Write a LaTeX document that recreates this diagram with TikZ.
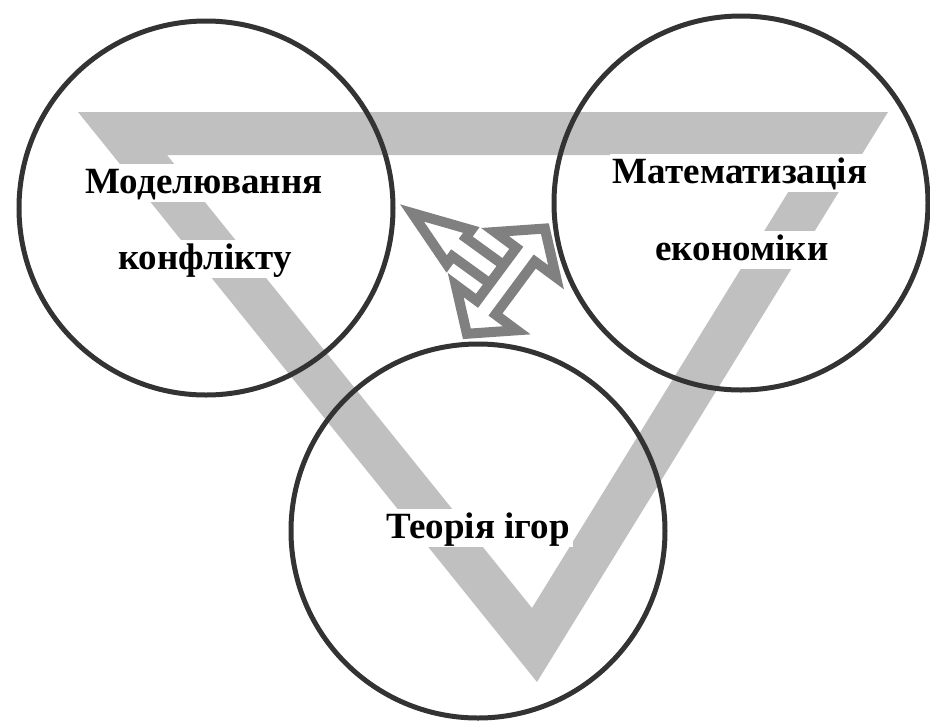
\documentclass[tikz,border=0pt]{standalone}
\usepackage{fontspec}
\setmainfont{Liberation Serif}
\definecolor{bandgray}{HTML}{C0C0C0}
\definecolor{ringgray}{HTML}{333333}
\definecolor{arrowgray}{HTML}{808080}

\begin{document}
\begin{tikzpicture}[x=1pt,y=-1pt,
    ring/.style={circle,draw=ringgray,line width=5pt,minimum size=374pt,inner sep=0pt},
    lbl/.style={fill=white,inner xsep=3pt,inner ysep=0pt,text height=29pt,text depth=9pt,anchor=base,font=\fontsize{37}{42}\selectfont\bfseries},
    outarrow/.style={draw=arrowgray,fill=white,line width=10pt,line join=miter}]
    \useasboundingbox (0,0) rectangle (930,724);
    % Triangle band ==========================================
    \fill[bandgray,even odd rule] (78,112) -- (888,112) -- (537,682) -- cycle
                                  (167,155) -- (811,155) -- (532,608) -- cycle;
    % Labels =================================================
    \node[lbl] (mod1)  at (204,193) {Моделювання};
    \node[lbl] (mod2)  at (205,269) {конфлікту};
    \node[lbl] (math1) at (740,183) {Математизація};
    \node[lbl] (math2) at (742,260) {економіки};
    \node[lbl] (game)  at (478,538) {Теорія ігор};
    % Circles ================================================
    \node[ring] (modc)  at (206,208) {};
    \node[ring] (mathc) at (741,203) {};
    \node[ring] (gamec) at (478,531) {};
    % Arrows =================================================
    \begin{scope}[shift={(506,281)},rotate=144.1]
      \draw[outarrow] (0,11.5) -- (58,11.5) -- (58,21) -- (116,0) -- (58,-21) -- (58,-11.5) -- (0,-11.5) -- cycle;
    \end{scope}
    \begin{scope}[shift={(463,339)},rotate=53.45]
      \draw[outarrow] (6.5,0) -- (39,38) -- (39,11.5) -- (105,11.5) -- (105,38) -- (137.5,0)
                      -- (105,-38) -- (105,-11.5) -- (39,-11.5) -- (39,-38) -- cycle;
    \end{scope}
\end{tikzpicture}
\end{document}
